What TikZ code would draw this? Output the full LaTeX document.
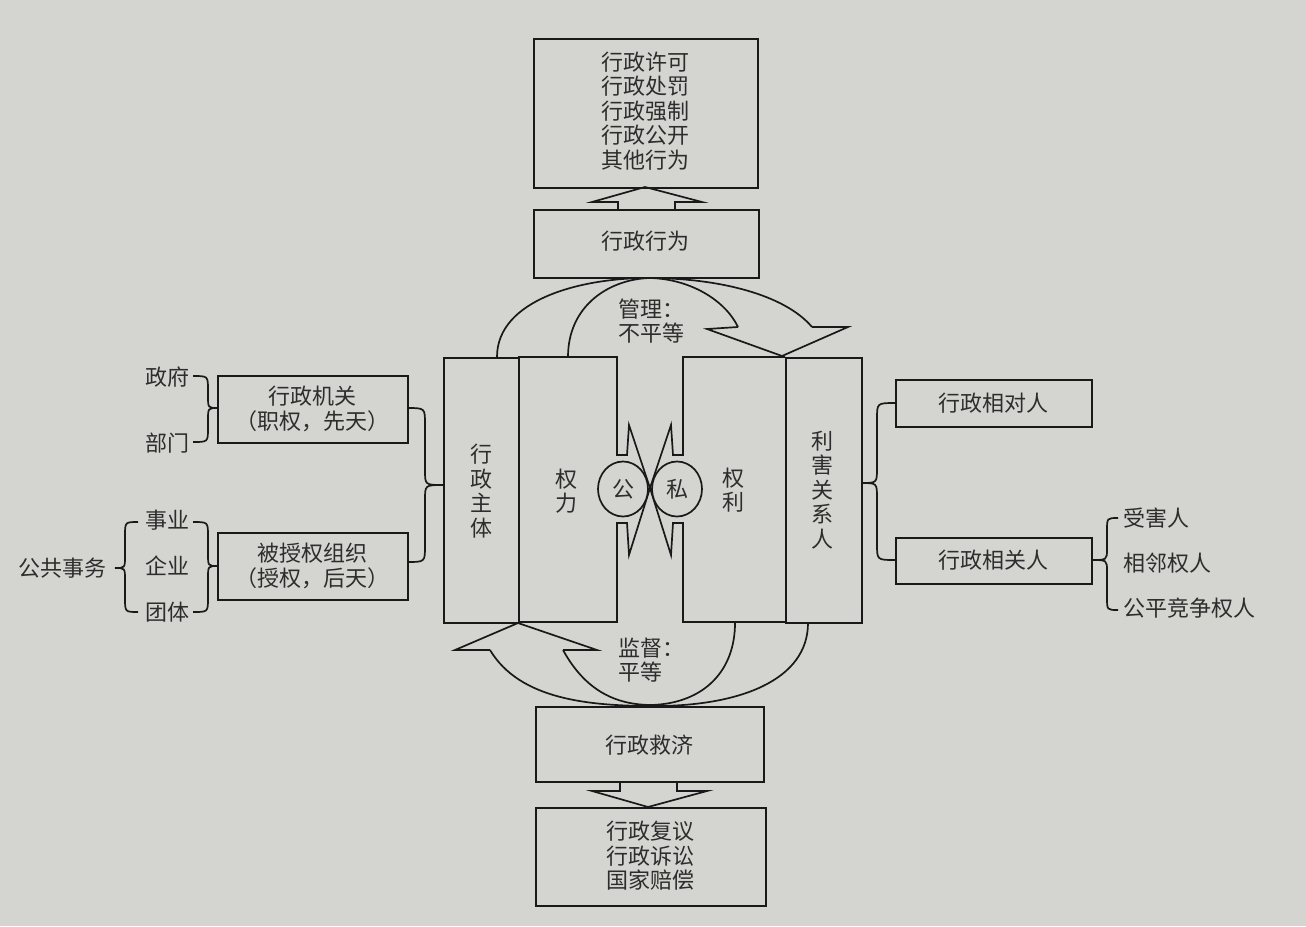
\documentclass[tikz,border=0pt]{standalone}
\usepackage{fontspec}
\newfontfamily\cjk{Noto Sans CJK SC}
\usetikzlibrary{shapes.geometric}
\definecolor{bg}{RGB}{212,212,209}
\definecolor{linec}{RGB}{25,25,25}
\definecolor{txtc}{RGB}{45,45,45}
\begin{document}
\begin{tikzpicture}[x=1pt,y=-1pt,
  ln/.style={line width=1.7pt, draw=linec, line join=miter},
  txt/.style={font=\cjk\fontsize{22}{24.5}\selectfont, text=txtc, align=center, inner sep=0pt},
  box/.style={ln, fill=bg, rectangle, inner sep=0pt, anchor=north west, txt},
]
\fill[bg] (0,0) rectangle (1306,926);
\useasboundingbox (0,0) rectangle (1306,926);

% top boxes
\node[box, minimum width=224pt, minimum height=149pt] (top) at (533,38) {};
\node[txt] (toptxt) at (645,111) {行政许可\\行政处罚\\行政强制\\行政公开\\其他行为};
\node[box, minimum width=225pt, minimum height=68pt] (act) at (533,209) {};
\node[txt] (acttxt) at (645,241) {行政行为};

% up arrow
\draw[ln] (618,209) -- (618,202) -- (592,202) -- (645,187) -- (702,202) -- (675,202) -- (675,209);

% management curve arrow
\draw[ln] (497,357) .. controls (497,300) and (580,278) .. (648,278) .. controls (720,278) and (785,295) .. (812,327);
\draw[ln] (568,357) .. controls (568,305) and (610,279) .. (650,278) .. controls (690,279) and (725,300) .. (738,327);
\draw[ln] (738,327) -- (707,329) -- (782,356) -- (848,327) -- (812,327);
\node[txt, align=left, anchor=west] (guanli) at (618,321) {管理：\\不平等};

% left group
\node[box, minimum width=75pt, minimum height=265pt] (zhuti) at (443,357) {};
\node[txt] (zhutitxt) at (481,491) {行\\政\\主\\体};
\draw[ln] (518,357) -- (617,357) -- (617,455) -- (627,455) -- (629,425) -- (650,488) -- (629,555) -- (627,523) -- (617,523) -- (617,622) -- (518,622);
\node[txt] (quanli) at (566,491) {权\\力};
% right group
\node[box, minimum width=76pt, minimum height=265pt] (lihai) at (785,357) {};
\node[txt] (lihaitxt) at (822,490) {利\\害\\关\\系\\人};
\draw[ln] (785,357) -- (683,357) -- (683,455) -- (673,455) -- (671,425) -- (650,488) -- (671,555) -- (673,523) -- (683,523) -- (683,622) -- (785,622);
\node[txt] (quanli2) at (733,490) {权\\利};
\node[ln, fill=bg, ellipse, minimum width=50pt, minimum height=55pt, inner sep=0pt, txt] (gong) at (623,489) {公};
\node[ln, fill=bg, ellipse, minimum width=50pt, minimum height=55pt, inner sep=0pt, txt] (si) at (677,489) {私};

% supervision curve arrow
\draw[ln] (490,650) .. controls (520,700) and (590,706) .. (655,706) .. controls (740,706) and (808,680) .. (808,623);
\draw[ln] (563,650) .. controls (585,690) and (615,705) .. (652,705) .. controls (705,703) and (735,670) .. (735,623);
\draw[ln] (490,650) -- (455,650) -- (518,623) -- (597,650) -- (563,650);
\node[txt, align=left, anchor=west] (jiandu) at (618,660) {监督：\\平等};

% bottom boxes
\node[box, minimum width=228pt, minimum height=75pt] (jiuji) at (535,706) {};
\node[txt] (jiujitxt) at (649,745) {行政救济};
\draw[ln] (620,781) -- (620,791) -- (592,791) -- (648,807) -- (707,791) -- (677,791) -- (677,781);
\node[box, minimum width=230pt, minimum height=98pt] (bot) at (535,807) {};
\node[txt] (bottxt) at (650,856) {行政复议\\行政诉讼\\国家赔偿};

% left side boxes
\node[box, minimum width=190pt, minimum height=67pt] (jiguan) at (217,375) {};
\node[txt] (jiguantxt) at (312,409) {行政机关\\（职权，先天）};
\node[box, minimum width=190pt, minimum height=67pt] (shouquan) at (217,532) {};
\node[txt] (shouquantxt) at (312,566) {被授权组织\\（授权，后天）};

\node[txt] (zhengfu) at (167,377) {政府};
\node[txt] (bumen) at (167,443) {部门};
\node[txt] (shiye) at (167,520) {事业};
\node[txt] (qiye) at (167,566) {企业};
\node[txt] (tuanti) at (167,612) {团体};
\node[txt] (gonggong) at (62,568) {公共事务};

\draw[ln] (193,376) .. controls (208,376) .. (208,390) -- (208,396) .. controls (208,408) .. (218,408) .. controls (208,408) .. (208,420) -- (208,428) .. controls (208,442) .. (193,442);
\draw[ln] (193,522) .. controls (208,522) .. (208,536) -- (208,554) .. controls (208,566) .. (218,566) .. controls (208,566) .. (208,578) -- (208,598) .. controls (208,612) .. (193,612);
\draw[ln] (138,522) .. controls (125,522) .. (125,536) -- (125,556) .. controls (125,568) .. (115,568) .. controls (125,568) .. (125,580) -- (125,598) .. controls (125,612) .. (138,612);
\draw[ln] (407,408) .. controls (425,408) .. (425,424) -- (425,470) .. controls (425,485) .. (443,485) .. controls (425,485) .. (425,500) -- (425,546) .. controls (425,562) .. (407,562);

% right side boxes
\node[box, minimum width=196pt, minimum height=47pt] (xiangdui) at (895,379) {};
\node[txt] (xiangduitxt) at (993,403) {行政相对人};
\node[box, minimum width=196pt, minimum height=46pt] (xiangguan) at (895,537) {};
\node[txt] (xiangguantxt) at (993,560) {行政相关人};

\draw[ln] (895,403) .. controls (877,403) .. (877,419) -- (877,468) .. controls (877,483) .. (861,483) .. controls (877,483) .. (877,498) -- (877,544) .. controls (877,560) .. (895,560);
\draw[ln] (1118,518) .. controls (1107,518) .. (1107,530) -- (1107,549) .. controls (1107,560) .. (1091,560) .. controls (1107,560) .. (1107,571) -- (1107,598) .. controls (1107,610) .. (1118,610);

\node[txt, anchor=west] (shouhai) at (1123,518) {受害人};
\node[txt, anchor=west] (xianglin) at (1123,563) {相邻权人};
\node[txt, anchor=west] (gongping) at (1123,608) {公平竞争权人};
\end{tikzpicture}
\end{document}
